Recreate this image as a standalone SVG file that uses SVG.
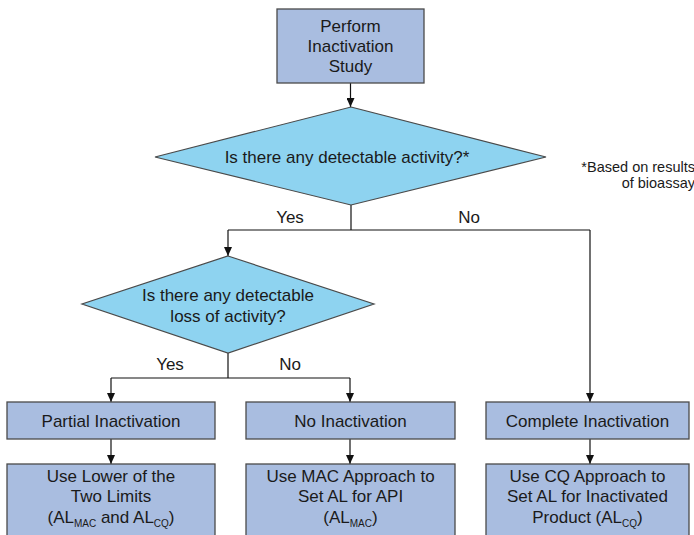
<svg xmlns="http://www.w3.org/2000/svg" width="694" height="535" viewBox="0 0 694 535">
  <defs>
    <marker id="arrow" markerWidth="9" markerHeight="8" refX="9" refY="4" orient="auto" markerUnits="userSpaceOnUse" viewBox="0 0 9 8">
      <path d="M0,0 L9,4 L0,8 Z" fill="#111"/>
    </marker>
    <style>
      .box { fill: #a9bde0; stroke: #4a4a4a; stroke-width: 1.3; }
      .dia { fill: #8ed3f0; stroke: #4a4a4a; stroke-width: 1.2; }
      .t { font-family: "Liberation Sans", Arial, sans-serif; font-size: 17px; fill: #1a1a1a; text-anchor: middle; }
      .note { font-family: "Liberation Sans", Arial, sans-serif; font-size: 14.5px; fill: #1a1a1a; text-anchor: end; }
      .sub { font-size: 10px; }
      .c { fill: none; stroke: #111; stroke-width: 1.2; }
      .ca { fill: none; stroke: #111; stroke-width: 1.2; marker-end: url(#arrow); }
    </style>
  </defs>
  <rect width="694" height="535" fill="#ffffff"/>

  <!-- connectors -->
  <g id="connectors">
    <line class="ca" x1="350.5" y1="83" x2="350.5" y2="107"/>
    <line class="c" x1="351" y1="205" x2="351" y2="230"/>
    <line class="c" x1="228" y1="230" x2="590" y2="230"/>
    <line class="ca" x1="228" y1="230" x2="228" y2="256"/>
    <line class="ca" x1="590" y1="230" x2="590" y2="402"/>
    <line class="c" x1="228" y1="353" x2="228" y2="378"/>
    <line class="c" x1="111" y1="378" x2="350" y2="378"/>
    <line class="ca" x1="111" y1="378" x2="111" y2="402"/>
    <line class="ca" x1="350" y1="378" x2="350" y2="402"/>
    <line class="ca" x1="111" y1="439" x2="111" y2="464"/>
    <line class="ca" x1="350" y1="439" x2="350" y2="464"/>
    <line class="ca" x1="590" y1="439" x2="590" y2="464"/>
    <text class="t" x="290" y="223">Yes</text>
    <text class="t" x="469" y="223">No</text>
    <text class="t" x="170" y="370">Yes</text>
    <text class="t" x="290" y="370">No</text>
  </g>

  <g id="start">
    <rect class="box" x="277" y="9" width="147" height="74"/>
    <text class="t" x="350.5" y="32">Perform</text>
    <text class="t" x="350.5" y="52">Inactivation</text>
    <text class="t" x="350.5" y="72">Study</text>
  </g>

  <g id="q-activity">
    <polygon class="dia" points="351,107 546,157 351,205 155,157"/>
    <text class="t" x="347" y="163">Is there any detectable activity?*</text>
  </g>

  <g id="footnote">
    <text class="note" x="695" y="172">*Based on results</text>
    <text class="note" x="695" y="188">of bioassay</text>
  </g>

  <g id="q-loss">
    <polygon class="dia" points="228,256 374,304 228,353 82,304"/>
    <text class="t" x="228" y="301">Is there any detectable</text>
    <text class="t" x="228" y="322">loss of activity?</text>
  </g>

  <g id="partial">
    <rect class="box" x="7" y="402" width="208" height="37"/>
    <text class="t" x="111" y="427">Partial Inactivation</text>
  </g>

  <g id="none">
    <rect class="box" x="246" y="402" width="209" height="37"/>
    <text class="t" x="350.5" y="427">No Inactivation</text>
  </g>

  <g id="complete">
    <rect class="box" x="486" y="402" width="203" height="37"/>
    <text class="t" x="587.5" y="427">Complete Inactivation</text>
  </g>

  <g id="use-lower">
    <rect class="box" x="7" y="464" width="208" height="80"/>
    <text class="t" x="111" y="482">Use Lower of the</text>
    <text class="t" x="111" y="502">Two Limits</text>
    <text class="t" x="111" y="523">(AL<tspan class="sub" dy="4">MAC</tspan><tspan dy="-4"> and AL</tspan><tspan class="sub" dy="4">CQ</tspan><tspan dy="-4">)</tspan></text>
  </g>

  <g id="use-mac">
    <rect class="box" x="246" y="464" width="209" height="80"/>
    <text class="t" x="350.5" y="482">Use MAC Approach to</text>
    <text class="t" x="350.5" y="502">Set AL for API</text>
    <text class="t" x="350.5" y="523">(AL<tspan class="sub" dy="4">MAC</tspan><tspan dy="-4">)</tspan></text>
  </g>

  <g id="use-cq">
    <rect class="box" x="486" y="464" width="203" height="80"/>
    <text class="t" x="587.5" y="482">Use CQ Approach to</text>
    <text class="t" x="587.5" y="502">Set AL for Inactivated</text>
    <text class="t" x="587.5" y="523">Product (AL<tspan class="sub" dy="4">CQ</tspan><tspan dy="-4">)</tspan></text>
  </g>
</svg>
